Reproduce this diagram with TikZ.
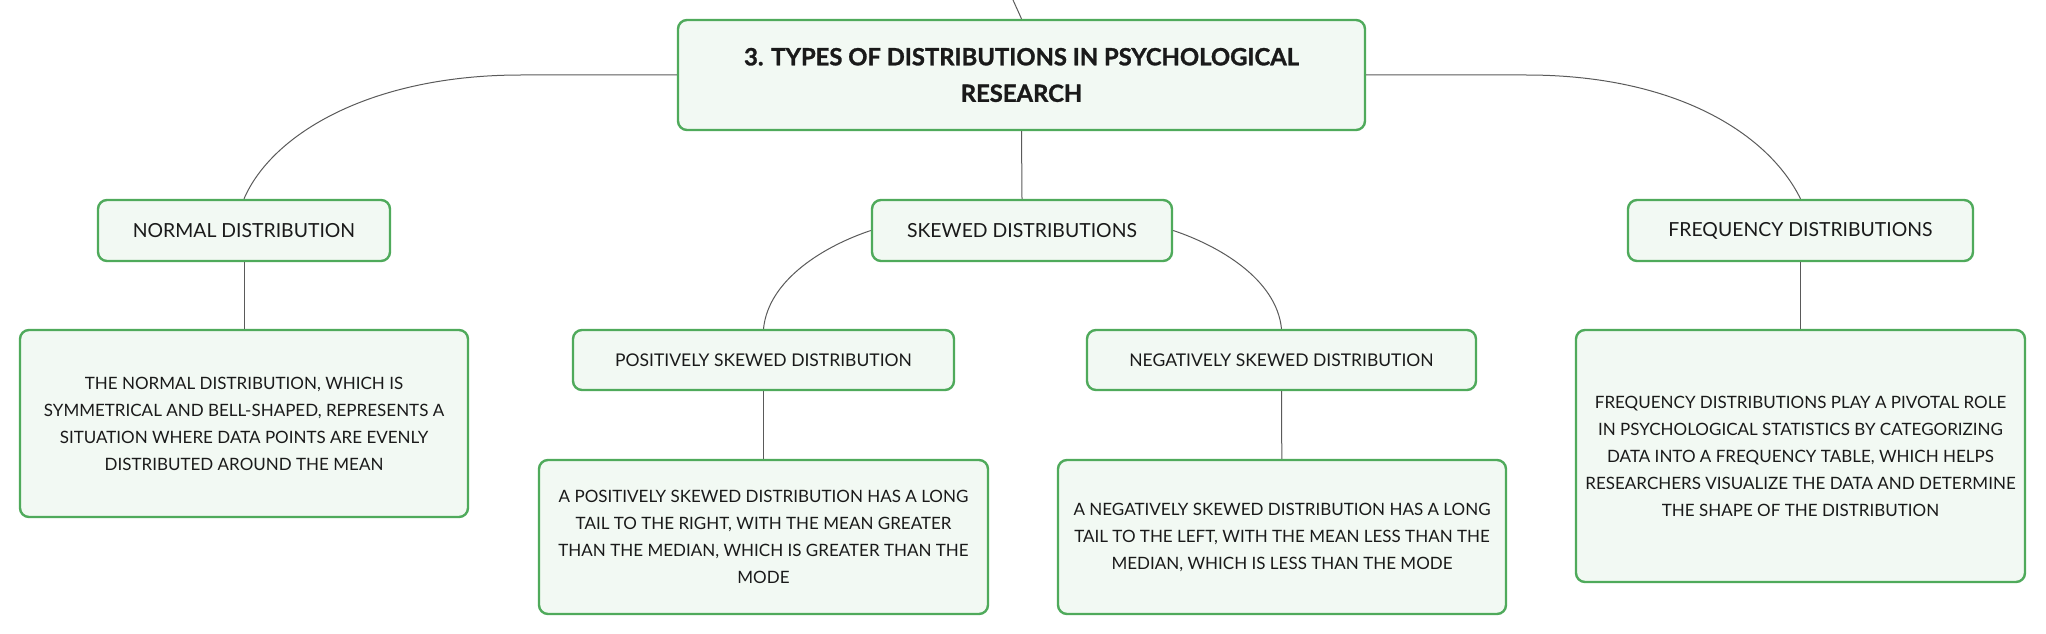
\documentclass[tikz,border=0pt]{standalone}
\usepackage{fontspec}
\setmainfont{Lato}[BoldFeatures={FakeBold=1.2}]
\definecolor{boxgreen}{HTML}{4FAA5B}
\definecolor{boxfill}{HTML}{F2F9F3}
\definecolor{linegray}{HTML}{5A5A5A}
\definecolor{ink}{HTML}{1A1A1A}
\begin{document}
\begin{tikzpicture}[x=1pt,y=-1pt,draw=linegray,line width=1pt,
	box/.style = {rectangle, rounded corners=9pt, draw=boxgreen, line width=2.4pt, fill=boxfill, text=ink, align=center, inner sep=0pt},
	topic/.style = {box, font=\bfseries\fontsize{23.8}{36.5}\selectfont},
	branch/.style = {box, font=\fontsize{19.4}{22}\selectfont},
	leaf/.style = {box, font=\fontsize{17.5}{22}\selectfont},
	note/.style = {box, font=\fontsize{17}{27}\selectfont}]
	\useasboundingbox (0,0) rectangle (2046,634);
	\node (title) at (1021.5, 75)	[topic, minimum width=687, minimum height=110]	{3. TYPES OF DISTRIBUTIONS IN PSYCHOLOGICAL\\RESEARCH};
	\node (normal) at ( 244, 230.5)	[branch, minimum width=292, minimum height=61]	{NORMAL DISTRIBUTION};
	\node (skewed) at (1022, 230.5)	[branch, minimum width=300, minimum height=61]	{SKEWED DISTRIBUTIONS};
	\node (freq) at (1800.5, 230.5)	[branch, minimum width=345, minimum height=61]	{FREQUENCY DISTRIBUTIONS};
	\node (normtxt) at ( 244, 423.5)	[note, minimum width=448, minimum height=187]	{THE NORMAL DISTRIBUTION, WHICH IS\\SYMMETRICAL AND BELL-SHAPED, REPRESENTS A\\SITUATION WHERE DATA POINTS ARE EVENLY\\DISTRIBUTED AROUND THE MEAN};
	\node (pos) at ( 763.5, 360)	[leaf, minimum width=381, minimum height=60]	{POSITIVELY SKEWED DISTRIBUTION};
	\node (neg) at (1281.5, 360)	[leaf, minimum width=389, minimum height=60]	{NEGATIVELY SKEWED DISTRIBUTION};
	\node (postxt) at ( 763.5, 537)	[note, minimum width=449, minimum height=154]	{A POSITIVELY SKEWED DISTRIBUTION HAS A LONG\\TAIL TO THE RIGHT, WITH THE MEAN GREATER\\THAN THE MEDIAN, WHICH IS GREATER THAN THE\\MODE};
	\node (negtxt) at (1282, 537)	[note, minimum width=448, minimum height=154]	{A NEGATIVELY SKEWED DISTRIBUTION HAS A LONG\\TAIL TO THE LEFT, WITH THE MEAN LESS THAN THE\\MEDIAN, WHICH IS LESS THAN THE MODE};
	\node (freqtxt) at (1800.5, 456)	[note, minimum width=449, minimum height=252]	{FREQUENCY DISTRIBUTIONS PLAY A PIVOTAL ROLE\\IN PSYCHOLOGICAL STATISTICS BY CATEGORIZING\\DATA INTO A FREQUENCY TABLE, WHICH HELPS\\RESEARCHERS VISUALIZE THE DATA AND DETERMINE\\THE SHAPE OF THE DISTRIBUTION};
	\coordinate (up) at (1013, 0);
	\draw (up) -- (title.north);
	\draw (title.west) -- ++(-156, 0) .. controls +(-150, 0) and +(28, -65) .. (normal.north);
	\draw (title.east) -- ++(160, 0) .. controls +(150, 0) and +(-32, -65) .. (freq.north);
	\draw (title.south) -- (skewed.north);
	\draw (skewed.west) .. controls +(-45, 15) and +(5, -50) .. (pos.north);
	\draw (skewed.east) .. controls +(45, 15) and +(-5, -50) .. (neg.north);
	\draw (normal) -- (normtxt);
	\draw (pos) -- (postxt);
	\draw (neg) -- (negtxt);
	\draw (freq) -- (freqtxt);
\end{tikzpicture}
\end{document}
